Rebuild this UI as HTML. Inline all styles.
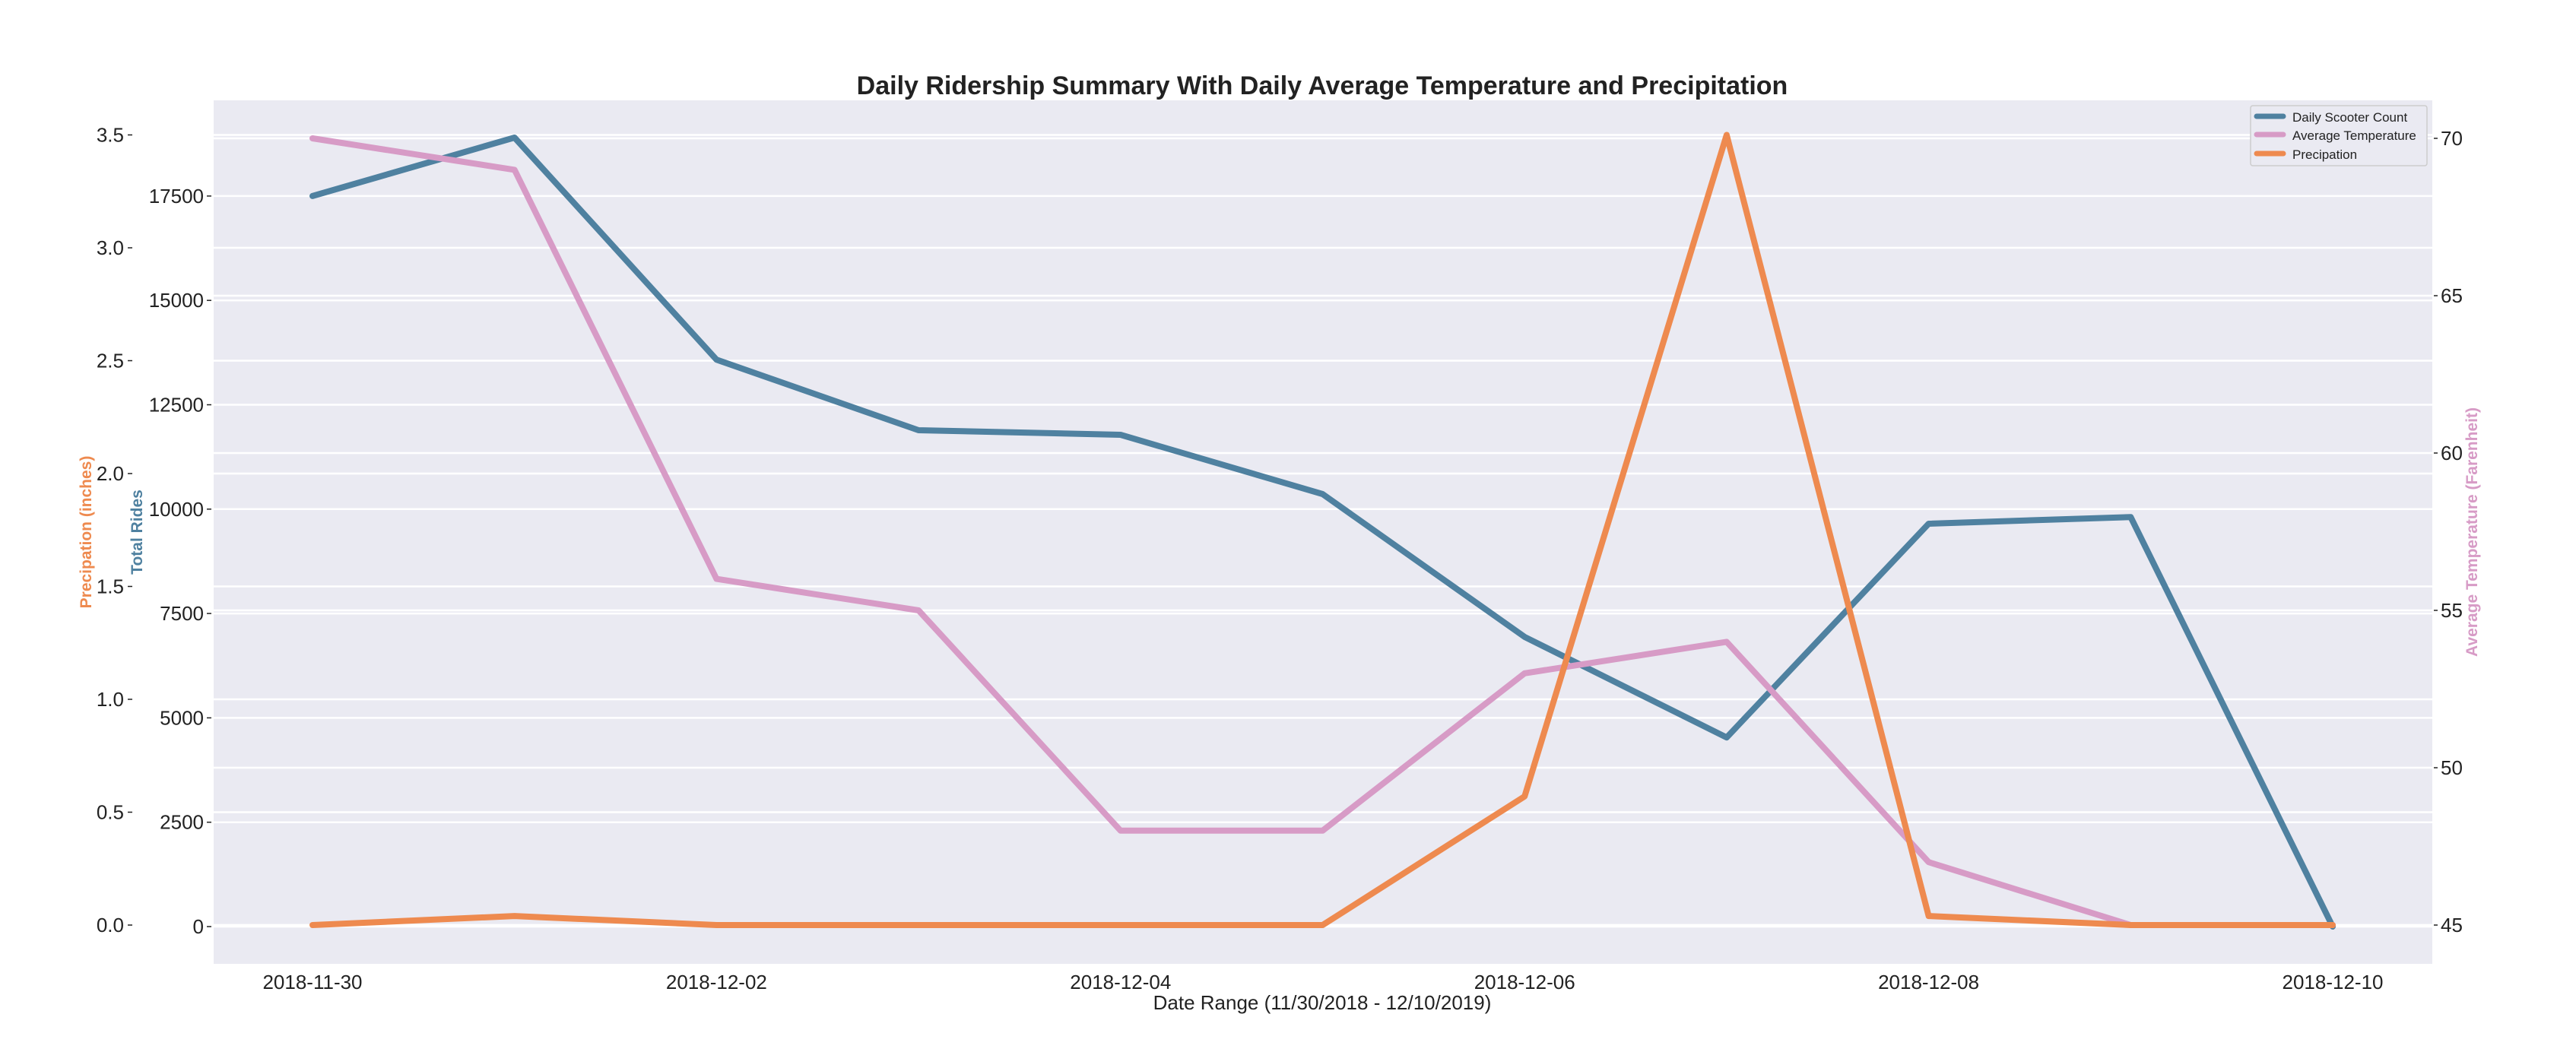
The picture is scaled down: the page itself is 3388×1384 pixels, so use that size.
<!DOCTYPE html>
<html><head><meta charset="utf-8"><style>
body{margin:0;background:#fff}
svg{display:block;font-family:"Liberation Sans",Arial,sans-serif}
</style></head><body>
<svg id="chart" width="3388" height="1384">
<rect x="281" y="132" width="2918" height="1136" fill="#eaeaf2"/>
<g id="grid"></g><g id="ticks"></g><g id="lines"></g>
<text x="1739" y="124" text-anchor="middle" font-size="34" font-weight="bold" fill="#222">Daily Ridership Summary With Daily Average Temperature and Precipitation</text>
<text x="1739" y="1328" text-anchor="middle" font-size="26" fill="#222">Date Range (11/30/2018 - 12/10/2019)</text>
<text transform="translate(120,700) rotate(-90)" text-anchor="middle" font-size="21" font-weight="bold" fill="#ee8a4f">Precipation (inches)</text>
<text transform="translate(187,700) rotate(-90)" text-anchor="middle" font-size="21" font-weight="bold" fill="#4f81a0">Total Rides</text>
<text transform="translate(3258,700) rotate(-90)" text-anchor="middle" font-size="21" font-weight="bold" fill="#d79bc6">Average Temperature (Farenheit)</text>
<g>
<rect x="2960" y="139" width="232" height="79" rx="3" fill="#eaeaf2" stroke="#cccccc" stroke-width="1.5"/>
<line x1="2968" y1="153" x2="3003" y2="153" stroke="#4f81a0" stroke-width="7" stroke-linecap="round"/>
<text x="3015" y="160" font-size="17" fill="#222">Daily Scooter Count</text>
<line x1="2968" y1="177" x2="3003" y2="177" stroke="#d79bc6" stroke-width="7" stroke-linecap="round"/>
<text x="3015" y="184" font-size="17" fill="#222">Average Temperature</text>
<line x1="2968" y1="202" x2="3003" y2="202" stroke="#ee8a4f" stroke-width="7" stroke-linecap="round"/>
<text x="3015" y="209" font-size="17" fill="#222">Precipation</text>
</g>
</svg>
<script>
const dates=["2018-11-30","2018-12-01","2018-12-02","2018-12-03","2018-12-04","2018-12-05","2018-12-06","2018-12-07","2018-12-08","2018-12-09","2018-12-10"];
const rides=[17500,18900,13580,11890,11780,10360,6940,4530,9650,9810,0];
const temps=[70,69,56,55,48,48,53,54,47,45,45];
const precip=[0,0.04,0,0,0,0,0.57,3.5,0.04,0,0];
const xTickLabels=["2018-11-30","2018-12-02","2018-12-04","2018-12-06","2018-12-08","2018-12-10"];
const rideTicks=[0,2500,5000,7500,10000,12500,15000,17500];
const precipTicks=[0,0.5,1,1.5,2,2.5,3,3.5];
const tempTicks=[45,50,55,60,65,70];
const NS="http://www.w3.org/2000/svg";
const t0=Date.parse("2018-11-30");
function xs(d){return 411+(Date.parse(d)-t0)/864e5*265.7;}
function yR(v){return 1219-v*(137.3/2500);}
function yP(v){return 1217-v*(148.5/0.5);}
function yT(v){return 1217-(v-45)*(207/5);}
function mk(tag,attrs,parent){const e=document.createElementNS(NS,tag);for(const k in attrs)e.setAttribute(k,attrs[k]);parent.appendChild(e);return e;}
const grid=document.getElementById('grid'),ticks=document.getElementById('ticks'),lines=document.getElementById('lines');
function hgrid(y,name){const l=mk('line',{x1:281,x2:3199,y1:y,y2:y,stroke:'#fff','stroke-width':2.5},grid);

}
function tlabel(x,y,txt,anchor,name){const t=mk('text',{x:x,y:y,'text-anchor':anchor,'font-size':26,fill:'#222'},ticks);t.textContent=txt;

}
precipTicks.forEach(v=>{const y=yP(v);hgrid(y,'precip-gridline');mk('line',{x1:168,x2:174,y1:y,y2:y,stroke:'#222','stroke-width':1.5},ticks);tlabel(163,y+9,v.toFixed(1),'end','precip-tick-label');});
rideTicks.forEach(v=>{const y=yR(v);hgrid(y,'rides-gridline');mk('line',{x1:272,x2:278,y1:y,y2:y,stroke:'#222','stroke-width':1.5},ticks);tlabel(268,y+9,String(v),'end','rides-tick-label');});
tempTicks.forEach(v=>{const y=yT(v);hgrid(y,'temp-gridline');mk('line',{x1:3201,x2:3206,y1:y,y2:y,stroke:'#222','stroke-width':1.5},ticks);tlabel(3210,y+9,String(v),'start','temp-tick-label');});
xTickLabels.forEach(d=>{tlabel(xs(d),1301,d,'middle','x-tick-label');});
function series(vals,yf,color,name){const pts=vals.map((v,i)=>xs(dates[i]).toFixed(1)+','+yf(v).toFixed(1)).join(' ');
const p=mk('polyline',{points:pts,fill:'none',stroke:color,'stroke-width':8,'stroke-linejoin':'round','stroke-linecap':'round'},lines);

}
series(rides,yR,'#4f81a0','rides-line');
series(temps,yT,'#d79bc6','temperature-line');
series(precip,yP,'#ee8a4f','precipitation-line');
</script>
</body></html>
